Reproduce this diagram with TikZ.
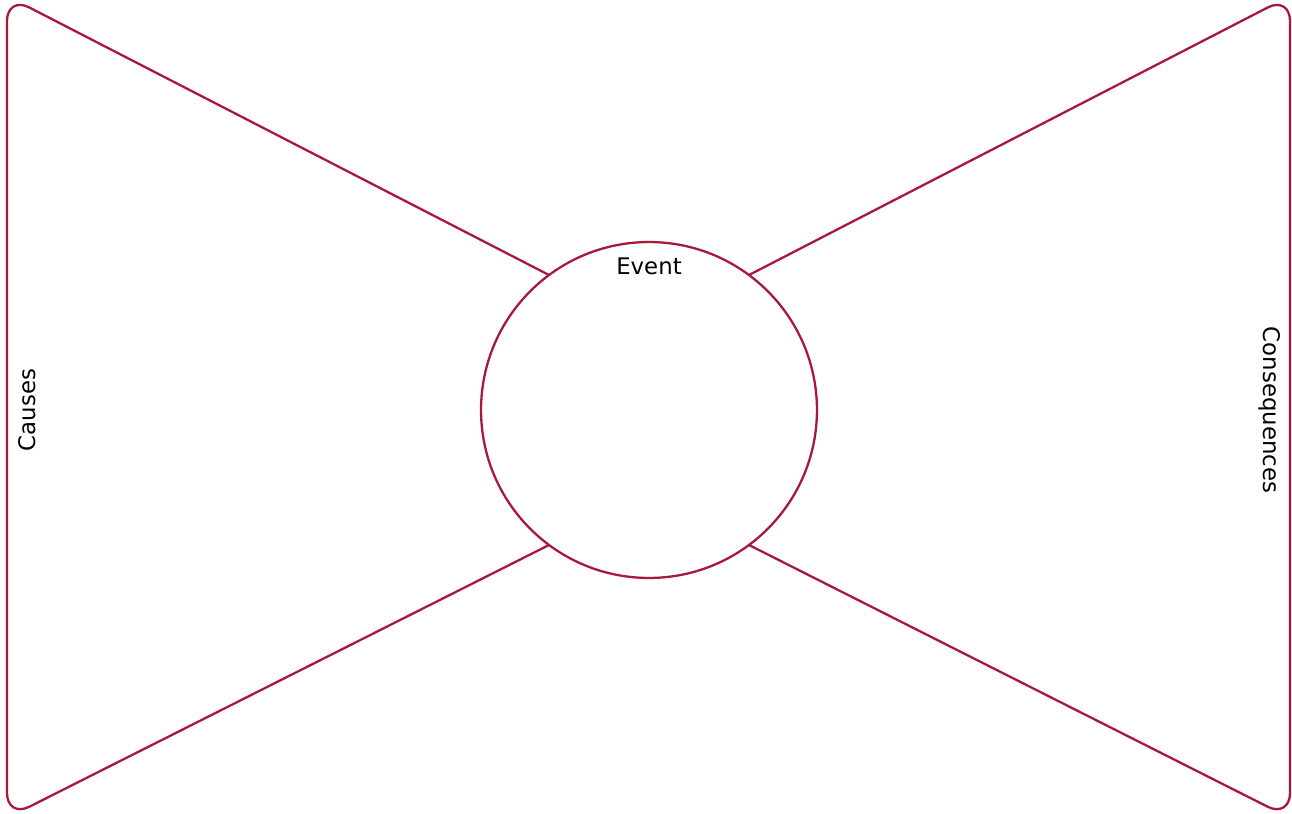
\documentclass[tikz,border=0pt]{standalone}
\usepackage{fontspec}
\setmainfont{DejaVu Sans}
\usepackage{xcolor}
\usetikzlibrary{positioning}
\definecolor{bowred}{RGB}{168,24,58}

\begin{document}
\begin{tikzpicture}[
  x=0.02cm, y=-0.02cm,
  font=\fontsize{13}{15}\selectfont,
  bowline/.style={draw=bowred, line width=1.3pt, line join=round},
  side/.style={bowline, rounded corners=0.5cm},
  lbl/.style={inner sep=0pt, text=black},
]
\useasboundingbox (0,0) rectangle (1292,814);

% Central event circle
\node[bowline, circle, minimum size=6.72cm, inner sep=0pt] (event) at (649,410) {};
\node[lbl, below=0.33cm of event.north] (eventlbl) {Event};

% Points where the wings meet the circle
\coordinate (lt) at (549,275);
\coordinate (lb) at (549,545);
\coordinate (rt) at (749,275);
\coordinate (rb) at (749,545);

% Left wing: causes
\draw[side] (lt) -- (7,-4) -- (7,818) -- (lb);
\node[lbl, rotate=90] (causes) at (27,410) {Causes};

% Right wing: consequences
\draw[side] (rt) -- (1290,-4) -- (1290,818) -- (rb);
\node[lbl, rotate=-90] (conseq) at (1270,410) {Consequences};
\end{tikzpicture}
\end{document}
